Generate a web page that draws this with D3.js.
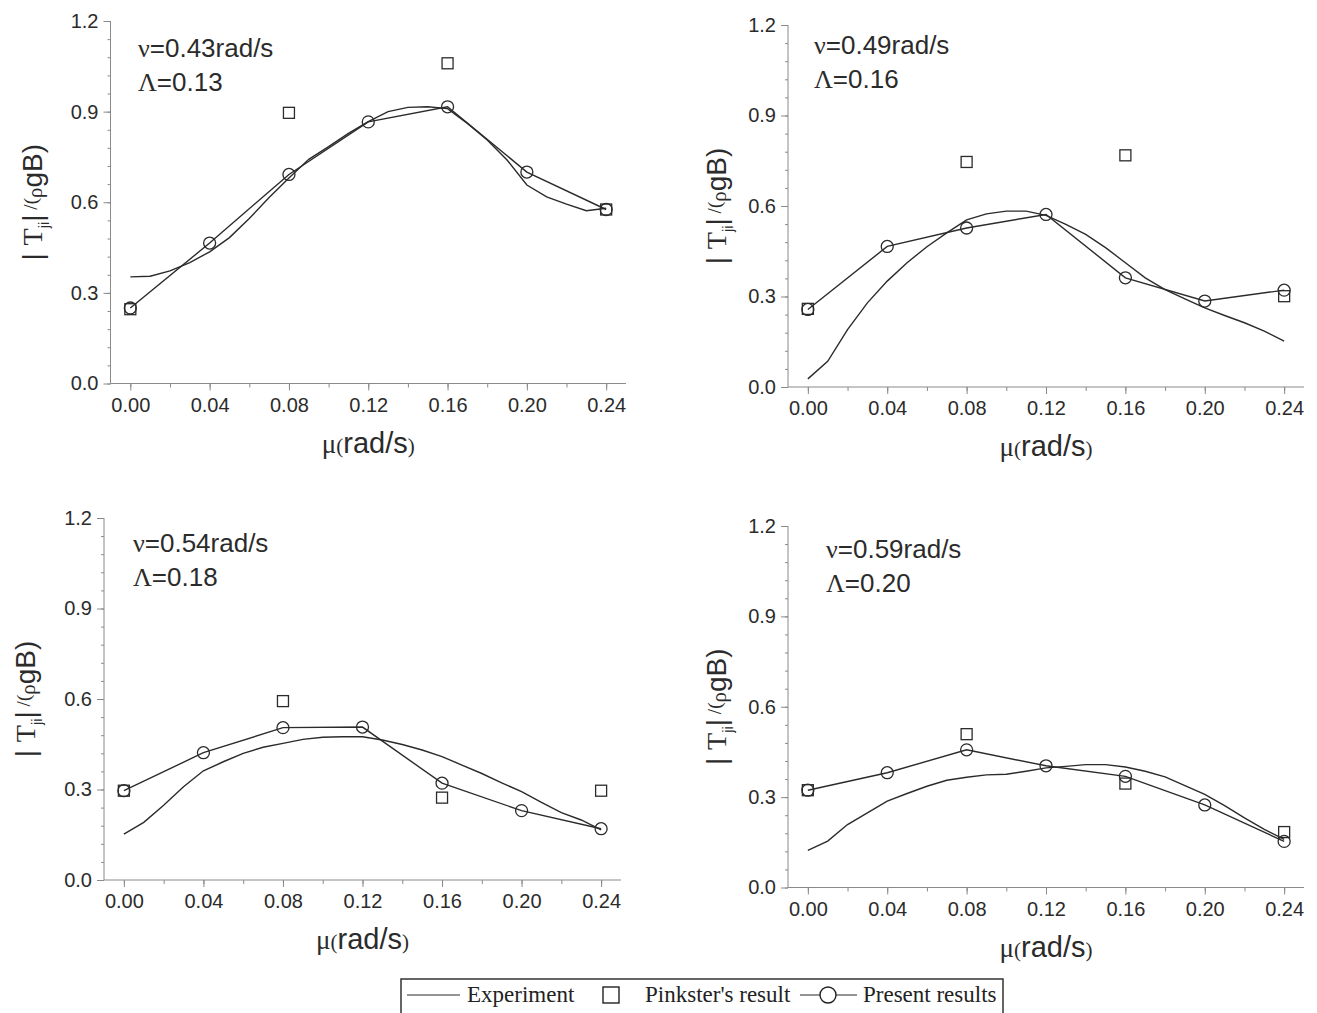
<!DOCTYPE html>
<html>
<head>
<meta charset="utf-8">
<script src="https://cdn.jsdelivr.net/npm/d3@7"></script>
<style>
  body { margin: 0; background: #fff; }
  svg { display: block; }
</style>
</head>
<body>
<svg id="chart" width="1317" height="1013"></svg>
<script>
// x values
var muTicks = [0.00, 0.04, 0.08, 0.12, 0.16, 0.20, 0.24];
var presentMu = [0.00, 0.04, 0.08, 0.12, 0.16, 0.20, 0.24];
var pinksterMu = [0.00, 0.08, 0.16, 0.24];
var expMu = [0.00, 0.01, 0.02, 0.03, 0.04, 0.05, 0.06, 0.07, 0.08, 0.09, 0.10, 0.11, 0.12,
             0.13, 0.14, 0.15, 0.16, 0.17, 0.18, 0.19, 0.20, 0.21, 0.22, 0.23, 0.24];
var yTicks = [0.0, 0.3, 0.6, 0.9, 1.2];

// panel labels
var nuLabels = ["0.43", "0.49", "0.54", "0.59"];
var lambdaLabels = ["0.13", "0.16", "0.18", "0.20"];

// experiment curves
var exp1 = [0.353, 0.355, 0.373, 0.400, 0.436, 0.483, 0.546, 0.616, 0.680, 0.742, 0.784, 0.828, 0.867,
            0.900, 0.914, 0.916, 0.910, 0.861, 0.806, 0.740, 0.657, 0.618, 0.594, 0.572, 0.580];
var exp2 = [0.027, 0.085, 0.190, 0.279, 0.351, 0.412, 0.465, 0.511, 0.554, 0.574, 0.583, 0.583, 0.569,
            0.539, 0.506, 0.462, 0.412, 0.362, 0.323, 0.292, 0.262, 0.237, 0.213, 0.185, 0.152];
var exp3 = [0.152, 0.191, 0.248, 0.309, 0.362, 0.392, 0.420, 0.440, 0.453, 0.466, 0.473, 0.475, 0.475,
            0.464, 0.449, 0.431, 0.409, 0.381, 0.353, 0.322, 0.293, 0.257, 0.223, 0.199, 0.166];
var exp4 = [0.123, 0.154, 0.209, 0.248, 0.287, 0.312, 0.336, 0.356, 0.366, 0.374, 0.376, 0.386, 0.397,
            0.402, 0.408, 0.408, 0.400, 0.386, 0.367, 0.338, 0.309, 0.272, 0.231, 0.193, 0.160];

// present results
var present1 = [0.250, 0.465, 0.692, 0.866, 0.916, 0.700, 0.576];
var present2 = [0.257, 0.466, 0.527, 0.572, 0.362, 0.285, 0.321];
var present3 = [0.296, 0.422, 0.505, 0.507, 0.321, 0.230, 0.170];
var present4 = [0.323, 0.381, 0.457, 0.404, 0.369, 0.274, 0.153];

// Pinkster's result
var pinkster1 = [0.246, 0.896, 1.060, 0.576];
var pinkster2 = [0.259, 0.746, 0.768, 0.301];
var pinkster3 = [0.296, 0.593, 0.273, 0.296];
var pinkster4 = [0.323, 0.509, 0.345, 0.184];

var expAll = [exp1, exp2, exp3, exp4];
var presentAll = [present1, present2, present3, present4];
var pinksterAll = [pinkster1, pinkster2, pinkster3, pinkster4];

// layout of the four panels (pixel frame)
var panels = [
    {left: 110.5, right: 626, top: 21, bottom: 383.5, noteX: 138, noteY: 57, ytX: 32},
    {left: 788, right: 1304, top: 25, bottom: 387, noteX: 814, noteY: 54, ytX: 716},
    {left: 104, right: 621, top: 518, bottom: 880, noteX: 133, noteY: 552, ytX: 25},
    {left: 788, right: 1304, top: 526, bottom: 887.5, noteX: 826, noteY: 558, ytX: 716}
];

var svg = d3.select("#chart");
var axisColor = "#8a8a8a";
var inkColor = "#2b2b2b";
var sans = "Liberation Sans, Arial, Helvetica, sans-serif";
var serif = "Liberation Serif, Times New Roman, serif";

panels.forEach(function (p, i) {
    var x = d3.scaleLinear().domain([-0.01, 0.25]).range([p.left, p.right]);
    var y = d3.scaleLinear().domain([0, 1.2]).range([p.bottom, p.top]);

    var g = svg.append("g");

    // minor ticks
    var yMinor = d3.range(0, 1.2001, 0.06);
    var xMinor = d3.range(0, 0.2401, 0.02);

    var yAxis = g.append("g")
        .attr("transform", "translate(" + p.left + ",0)")
        .call(d3.axisLeft(y).tickValues(yMinor).tickSize(3).tickFormat(""));
    yAxis.select(".domain").remove();
    yAxis.selectAll("line").attr("stroke", axisColor);

    var xAxisMinor = g.append("g")
        .attr("transform", "translate(0," + p.bottom + ")")
        .call(d3.axisBottom(x).tickValues(xMinor).tickSize(4).tickFormat(""));
    xAxisMinor.select(".domain").remove();
    xAxisMinor.selectAll("line").attr("stroke", axisColor);

    var yMajor = g.append("g")
        .attr("transform", "translate(" + p.left + ",0)")
        .call(d3.axisLeft(y).tickValues(yTicks).tickSize(7).tickPadding(5)
            .tickFormat(d3.format(".1f")));
    yMajor.select(".domain").attr("stroke", axisColor).attr("d", "M0," + p.bottom + "V" + p.top);
    yMajor.selectAll("line").attr("stroke", axisColor);
    yMajor.selectAll("text")
        .style("font-family", sans).style("font-size", "20px").attr("fill", inkColor);

    var xMajor = g.append("g")
        .attr("transform", "translate(0," + p.bottom + ")")
        .call(d3.axisBottom(x).tickValues(muTicks).tickSize(7).tickPadding(7)
            .tickFormat(d3.format(".2f")));
    xMajor.select(".domain").attr("stroke", axisColor).attr("d", "M" + p.left + ",0H" + p.right);
    xMajor.selectAll("line").attr("stroke", axisColor);
    xMajor.selectAll("text")
        .style("font-family", sans).style("font-size", "20px").attr("fill", inkColor);

    // x title
    var xt = g.append("text")
        .attr("x", x(0.12)).attr("y", p.bottom + 69)
        .attr("text-anchor", "middle").attr("fill", inkColor);
    xt.append("tspan").style("font-family", serif).style("font-size", "27px").text("μ");
    xt.append("tspan").style("font-family", serif).style("font-size", "21px").text("(");
    xt.append("tspan").style("font-family", sans).style("font-size", "29px").text("rad/s");
    xt.append("tspan").style("font-family", serif).style("font-size", "21px").text(")");

    // y title
    var yt = g.append("text")
        .attr("transform", "translate(" + (p.ytX + 10) + "," + ((p.top + p.bottom) / 2) + ")rotate(-90)")
        .attr("text-anchor", "middle").attr("fill", inkColor);
    yt.append("tspan").style("font-family", sans).style("font-size", "28px").text("| ");
    yt.append("tspan").style("font-family", serif).style("font-size", "28px").text("T");
    yt.append("tspan").style("font-family", sans).style("font-size", "15px").attr("dy", 7).text("ji");
    yt.append("tspan").style("font-family", sans).style("font-size", "28px").attr("dy", -7).text("|");
    yt.append("tspan").style("font-family", serif).style("font-size", "19px").attr("dy", -5).text(" /(");
    yt.append("tspan").style("font-family", serif).style("font-size", "21px").attr("dy", 5).text("ρ");
    yt.append("tspan").style("font-family", sans).style("font-size", "28px").text("gB)");

    // annotation
    var n1 = g.append("text").attr("x", p.noteX).attr("y", p.noteY).attr("fill", inkColor);
    n1.append("tspan").style("font-family", serif).style("font-size", "26px").text("ν");
    n1.append("tspan").style("font-family", sans).style("font-size", "26px").text("=" + nuLabels[i] + "rad/s");
    var n2 = g.append("text").attr("x", p.noteX).attr("y", p.noteY + 34).attr("fill", inkColor);
    n2.append("tspan").style("font-family", serif).style("font-size", "26px").text("Λ");
    n2.append("tspan").style("font-family", sans).style("font-size", "26px").text("=" + lambdaLabels[i]);

    // experiment curve
    var line = d3.line()
        .x(function (d) { return x(d[0]); })
        .y(function (d) { return y(d[1]); });

    var expData = expMu.map(function (m, k) { return [m, expAll[i][k]]; });
    g.append("path")
        .datum(expData)
        .attr("d", line)
        .attr("fill", "none")
        .attr("stroke", inkColor)
        .attr("stroke-width", 1.4);

    // present results
    var presData = presentMu.map(function (m, k) { return [m, presentAll[i][k]]; });
    g.append("path")
        .datum(presData)
        .attr("d", line)
        .attr("fill", "none")
        .attr("stroke", inkColor)
        .attr("stroke-width", 1.4);
    g.selectAll(".pc")
        .data(presData)
        .enter()
        .append("circle")
        .attr("cx", function (d) { return x(d[0]); })
        .attr("cy", function (d) { return y(d[1]); })
        .attr("r", 6)
        .attr("fill", "none")
        .attr("stroke", inkColor)
        .attr("stroke-width", 1.3);

    // Pinkster squares
    var pinkData = pinksterMu.map(function (m, k) { return [m, pinksterAll[i][k]]; });
    g.selectAll(".ps")
        .data(pinkData)
        .enter()
        .append("rect")
        .attr("x", function (d) { return x(d[0]) - 5.5; })
        .attr("y", function (d) { return y(d[1]) - 5.5; })
        .attr("width", 11)
        .attr("height", 11)
        .attr("fill", "none")
        .attr("stroke", inkColor)
        .attr("stroke-width", 1.3);
});

// legend
var leg = svg.append("g");
leg.append("rect")
    .attr("x", 401).attr("y", 979).attr("width", 602).attr("height", 40)
    .attr("fill", "white").attr("stroke", "#333").attr("stroke-width", 1.5);
leg.append("line")
    .attr("x1", 407).attr("x2", 460).attr("y1", 995).attr("y2", 995)
    .attr("stroke", inkColor).attr("stroke-width", 1.2);
leg.append("text").attr("x", 467).attr("y", 1002)
    .style("font-family", serif).style("font-size", "23px").attr("fill", "#222").text("Experiment");
leg.append("rect")
    .attr("x", 603).attr("y", 987).attr("width", 16).attr("height", 16)
    .attr("fill", "none").attr("stroke", "#222").attr("stroke-width", 1.4);
leg.append("text").attr("x", 645).attr("y", 1002)
    .style("font-family", serif).style("font-size", "23px").attr("fill", "#222").text("Pinkster's result");
leg.append("line")
    .attr("x1", 800).attr("x2", 857).attr("y1", 995).attr("y2", 995)
    .attr("stroke", inkColor).attr("stroke-width", 1.2);
leg.append("circle")
    .attr("cx", 828).attr("cy", 995).attr("r", 8)
    .attr("fill", "white").attr("stroke", "#222").attr("stroke-width", 1.4);
leg.append("text").attr("x", 863).attr("y", 1002)
    .style("font-family", serif).style("font-size", "23px").attr("fill", "#222").text("Present results");
</script>
</body>
</html>
